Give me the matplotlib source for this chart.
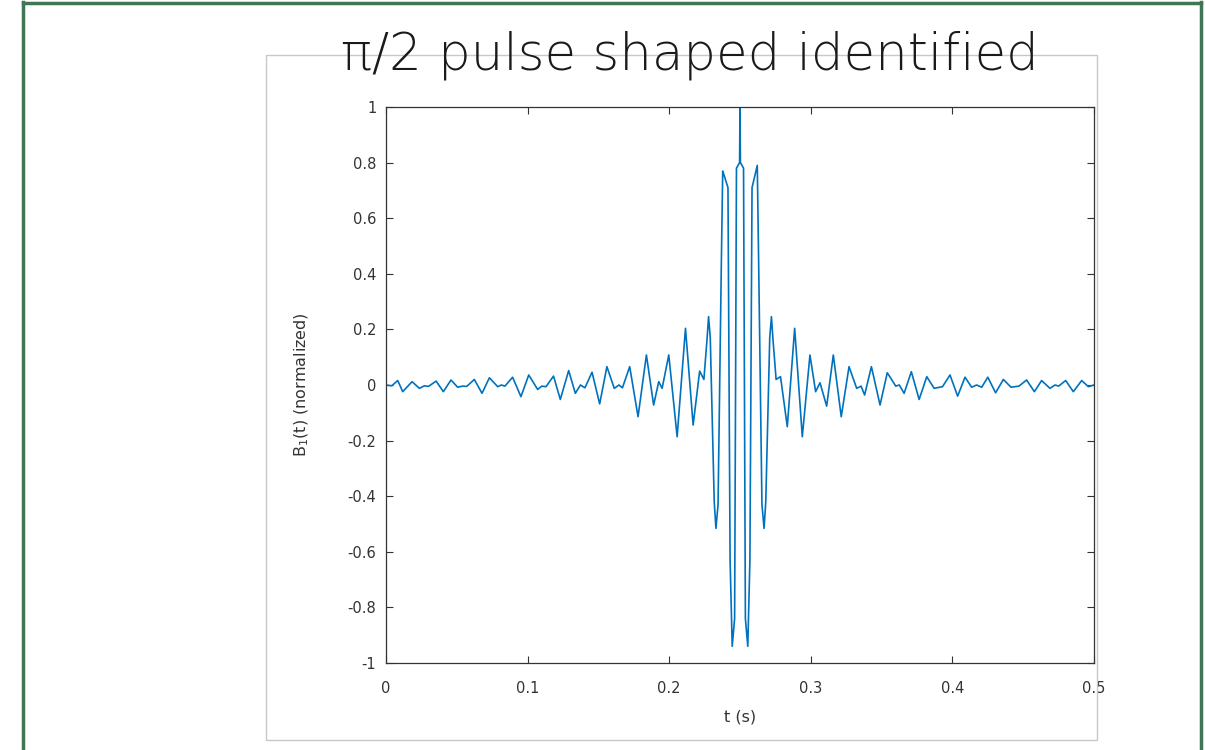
import matplotlib
matplotlib.use("Agg")
import matplotlib.pyplot as plt
from matplotlib.patches import Rectangle
from matplotlib.lines import Line2D

plt.rcParams['axes.unicode_minus'] = False

# extrema / shoulder points of B1(t)
t = [0.0000, 0.0040, 0.0083, 0.0118, 0.0184, 0.0236, 0.0271, 0.0300,
     0.0354, 0.0405, 0.0459, 0.0506, 0.0540, 0.0570, 0.0624, 0.0678,
     0.0730, 0.0789, 0.0815, 0.0840, 0.0894, 0.0953, 0.1008, 0.1071,
     0.1100, 0.1130, 0.1183, 0.1231, 0.1290, 0.1337, 0.1373, 0.1405,
     0.1455, 0.1509, 0.1560, 0.1612, 0.1645, 0.1670, 0.1721, 0.1780,
     0.1839, 0.1890, 0.1926, 0.1950, 0.1997, 0.2056, 0.2115, 0.2169,
     0.2215, 0.2245,
     0.2268, 0.2278, 0.2290, 0.2318, 0.2330, 0.2345, 0.2368, 0.2378,
     0.2415, 0.2430, 0.2445, 0.2462, 0.2475, 0.2497, 0.2500, 0.2503,
     0.2525, 0.2538, 0.2555, 0.2570, 0.2585, 0.2622, 0.2632, 0.2655,
     0.2670, 0.2682, 0.2710, 0.2722, 0.2732,
     0.2755, 0.2786, 0.2834, 0.2886, 0.2940,
     0.2994, 0.3034, 0.3065, 0.3112, 0.3159, 0.3215, 0.3270, 0.3324,
     0.3355, 0.3380, 0.3428, 0.3489, 0.3540, 0.3600, 0.3625, 0.3659,
     0.3710, 0.3765, 0.3819, 0.3871, 0.3930, 0.3983, 0.4037, 0.4089,
     0.4136, 0.4171, 0.4207, 0.4250, 0.4305, 0.4360, 0.4414, 0.4470,
     0.4524, 0.4579, 0.4630, 0.4689, 0.4725, 0.4750, 0.4800, 0.4854,
     0.4913, 0.4960, 0.5000]
b1 = [0.000, -0.003, 0.016, -0.024, 0.012, -0.012, -0.003, -0.005,
      0.014, -0.024, 0.018, -0.008, -0.004, -0.005, 0.020, -0.030,
      0.026, -0.006, 0.000, -0.004, 0.028, -0.042, 0.036, -0.016,
      -0.004, -0.006, 0.032, -0.052, 0.052, -0.030, 0.000, -0.010,
      0.046, -0.068, 0.066, -0.012, 0.000, -0.010, 0.066, -0.114,
      0.108, -0.072, 0.012, -0.012, 0.108, -0.186, 0.204, -0.144,
      0.050, 0.020,
      0.170, 0.246, 0.170, -0.420, -0.516, -0.430, 0.430, 0.770,
      0.710, -0.630, -0.940, -0.840, 0.780, 0.800, 1.000, 0.800,
      0.780, -0.840, -0.940, -0.630, 0.710, 0.790, 0.430, -0.430,
      -0.516, -0.420, 0.170, 0.246, 0.170,
      0.020, 0.030, -0.150, 0.204, -0.186,
      0.108, -0.024, 0.008, -0.076, 0.108, -0.114, 0.066, -0.012,
      -0.004, -0.036, 0.066, -0.072, 0.044, -0.004, 0.000, -0.030,
      0.048, -0.052, 0.030, -0.012, -0.006, 0.036, -0.040, 0.028,
      -0.008, 0.000, -0.008, 0.028, -0.028, 0.020, -0.008, -0.004,
      0.018, -0.024, 0.016, -0.012, 0.000, -0.004, 0.016, -0.024,
      0.016, -0.006, 0.000]

xticks = [0, 0.1, 0.2, 0.3, 0.4, 0.5]
xticklabels = ['0', '0.1', '0.2', '0.3', '0.4', '0.5']
yticks = [-1, -0.8, -0.6, -0.4, -0.2, 0, 0.2, 0.4, 0.6, 0.8, 1]
yticklabels = ['-1', '-0.8', '-0.6', '-0.4', '-0.2', '0', '0.2', '0.4', '0.6', '0.8', '1']

W, H = 1205, 750
fig = plt.figure(figsize=(W / 100, H / 100), dpi=100)
fig.patch.set_facecolor('white')

# slide frame (green) and exported-figure box (light gray)
green = '#3f7656'
fig.add_artist(Line2D([23 / W, 23 / W], [0, 1 - 2 / H], color=green, lw=2.5))
fig.add_artist(Line2D([23 / W, 1201 / W], [1 - 3 / H, 1 - 3 / H], color=green, lw=2.5))
fig.add_artist(Line2D([1201 / W, 1201 / W], [0, 1 - 2 / H], color=green, lw=2.5))
fig.add_artist(Rectangle((266 / W, 1 - 740 / H), (1097 - 266) / W, (740 - 55) / H,
                         fill=False, edgecolor='#c8c8c8', lw=1.0))

fig.text(690 / W, 1 - 70 / H, 'π/2 pulse shaped identified', ha='center',
         va='baseline', fontsize=37, family='DejaVu Sans', fontweight='light',
         color='#1a1a1a')

ax = fig.add_axes([386 / W, 1 - 663 / H, 708 / W, 556 / H])
ax.plot(t, b1, color='#0072BD', lw=1.2)
ax.set_xlim(0, 0.5)
ax.set_ylim(-1, 1)
ax.set_xticks(xticks)
ax.set_xticklabels(xticklabels)
ax.set_yticks(yticks)
ax.set_yticklabels(yticklabels)
ax.tick_params(direction='in', length=5, width=0.8, top=True, right=True,
               labelsize=10.5, colors='#333333')
ax.tick_params(axis='x', pad=13)
ax.tick_params(axis='y', pad=7)
for s in ax.spines.values():
    s.set_color('#333333')
    s.set_linewidth(0.9)
ax.set_xlabel('t (s)', fontsize=11.5, color='#333333', labelpad=10)
ax.set_ylabel('B$_1$(t) (normalized)', fontsize=11.5, color='#333333', labelpad=26)

fig.savefig('out.png', dpi=100, facecolor='white')
